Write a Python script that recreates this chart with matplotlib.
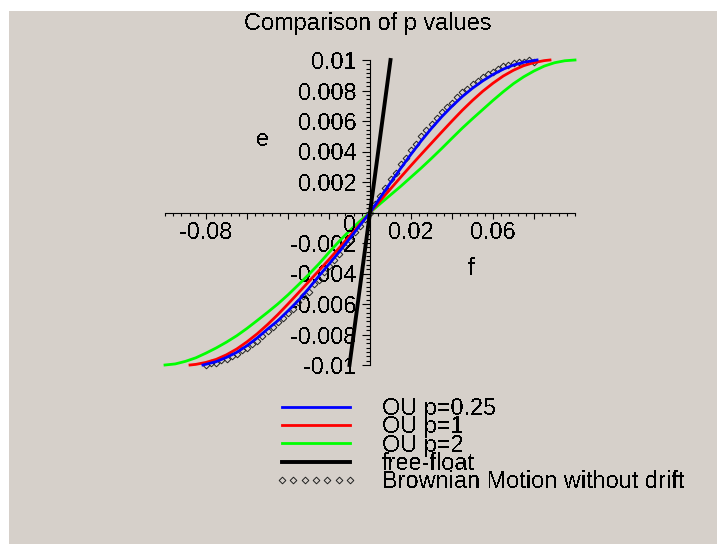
import matplotlib
matplotlib.use('Agg')
import matplotlib.pyplot as plt
from matplotlib.patches import Rectangle
from matplotlib.ticker import MultipleLocator, FixedLocator, FixedFormatter

# ---------------- data ----------------
title = 'Comparison of p values'
x_name = 'f'
y_name = 'e'

green_f = [-0.100, -0.095, -0.090, -0.085, -0.080, -0.075, -0.070, -0.065, -0.060, -0.055,
           -0.050, -0.045, -0.040, -0.035, -0.030, -0.025, -0.020, -0.015, -0.010, -0.005,
           0.000, 0.005, 0.010, 0.015, 0.020, 0.025, 0.030, 0.035, 0.040, 0.045,
           0.050, 0.055, 0.060, 0.065, 0.070, 0.075, 0.080, 0.085, 0.090, 0.095, 0.100]
green_e = [-0.01000, -0.00993, -0.00976, -0.00953, -0.00922, -0.00888, -0.00850, -0.00808, -0.00760, -0.00708,
           -0.00655, -0.00600, -0.00540, -0.00475, -0.00408, -0.00338, -0.00262, -0.00188, -0.00120, -0.00058,
           0.0, 0.00058, 0.00115, 0.00172, 0.00232, 0.00292, 0.00355, 0.00420, 0.00487, 0.00553,
           0.00615, 0.00675, 0.00735, 0.00792, 0.00845, 0.00890, 0.00928, 0.00960, 0.00982, 0.00995, 0.01000]

red_f = [-0.0878, -0.085, -0.080, -0.075, -0.070, -0.065, -0.060, -0.055, -0.050, -0.045,
         -0.040, -0.035, -0.030, -0.025, -0.020, -0.015, -0.010, -0.005,
         0.000, 0.005, 0.010, 0.015, 0.020, 0.025, 0.030, 0.035, 0.040, 0.045,
         0.050, 0.055, 0.060, 0.065, 0.070, 0.075, 0.080, 0.085, 0.0878]
red_e = [-0.01000, -0.00996, -0.00983, -0.00963, -0.00933, -0.00895, -0.00848, -0.00795, -0.00735, -0.00670,
         -0.00600, -0.00528, -0.00455, -0.00382, -0.00308, -0.00232, -0.00155, -0.00078,
         0.0, 0.00078, 0.00155, 0.00232, 0.00308, 0.00382, 0.00455, 0.00528, 0.00600, 0.00670,
         0.00735, 0.00795, 0.00848, 0.00895, 0.00933, 0.00963, 0.00983, 0.00996, 0.01000]

blue_f = [-0.0815, -0.075, -0.070, -0.065, -0.060, -0.055, -0.050, -0.045, -0.040, -0.035,
          -0.030, -0.025, -0.020, -0.015, -0.010, -0.005,
          0.000, 0.005, 0.010, 0.015, 0.020, 0.025, 0.030, 0.035, 0.040, 0.045,
          0.050, 0.055, 0.060, 0.065, 0.070, 0.075, 0.0815]
blue_e = [-0.01000, -0.00978, -0.00950, -0.00917, -0.00873, -0.00822, -0.00765, -0.00710, -0.00645, -0.00578,
          -0.00500, -0.00418, -0.00338, -0.00258, -0.00172, -0.00086,
          0.0, 0.00098, 0.00195, 0.00290, 0.00382, 0.00470, 0.00552, 0.00628, 0.00697, 0.00760,
          0.00815, 0.00863, 0.00905, 0.00940, 0.00967, 0.00985, 0.01000]

free_f = [-0.0100, 0.0100]
free_e = [-0.0100, 0.0100]

bm_f = [-0.0800, -0.0775, -0.0750, -0.0725, -0.0700, -0.0675, -0.0650, -0.0625, -0.0600, -0.0575,
        -0.0550, -0.0525, -0.0500, -0.0475, -0.0450, -0.0425, -0.0400, -0.0375, -0.0350, -0.0325,
        -0.0300, -0.0275, -0.0250, -0.0225, -0.0200, -0.0175, -0.0150, -0.0125, -0.0100, -0.0075,
        -0.0050, -0.0025, 0.0000, 0.0025, 0.0050, 0.0075, 0.0100, 0.0125, 0.0150, 0.0175,
        0.0200, 0.0225, 0.0250, 0.0275, 0.0300, 0.0325, 0.0350, 0.0375, 0.0400, 0.0425,
        0.0450, 0.0475, 0.0500, 0.0525, 0.0550, 0.0575, 0.0600, 0.0625, 0.0650, 0.0675,
        0.0700, 0.0725, 0.0750, 0.0775, 0.0800]
bm_e = [-0.0100, -0.0099, -0.0099, -0.0097, -0.0096, -0.0094, -0.0093, -0.0090, -0.0089, -0.0086,
        -0.0084, -0.0081, -0.0078, -0.0075, -0.0072, -0.0069, -0.0066, -0.0063, -0.0059, -0.0055,
        -0.0052, -0.0047, -0.0044, -0.0039, -0.0035, -0.0031, -0.0027, -0.0022, -0.0018, -0.0013,
        -0.0009, -0.0004, 0.0000, 0.00055, 0.0011, 0.0016, 0.0022, 0.0026, 0.0032, 0.0036,
        0.0041, 0.0045, 0.0050, 0.0054, 0.0058, 0.0062, 0.0066, 0.0069, 0.0072, 0.0076,
        0.0079, 0.0081, 0.0084, 0.0086, 0.0089, 0.0091, 0.0092, 0.0094, 0.0096, 0.0097,
        0.0098, 0.0099, 0.0099, 0.0100, 0.0099]

series_labels = ['OU p=0.25', 'OU p=1', 'OU p=2', 'free-float', 'Brownian Motion without drift']

xtick_values = [-0.08, -0.06, -0.04, -0.02, 0.0, 0.02, 0.04, 0.06, 0.08]
xtick_labels = ['-0.08', '', '', '', '', '0.02', '', '0.06', '']
ytick_values = [-0.01, -0.008, -0.006, -0.004, -0.002, 0.002, 0.004, 0.006, 0.008, 0.01]
ytick_labels = ['-0.01', '-0.008', '-0.006', '-0.004', '-0.002', '0.002', '0.004', '0.006', '0.008', '0.01']

# ---------------- style ----------------
plt.rcParams['font.family'] = ['Liberation Sans', 'DejaVu Sans']
plt.rcParams['text.antialiased'] = False
FS = 16.9
BG = '#d6d0ca'
W, H = 717, 544

fig = plt.figure(figsize=(W / 100, H / 100), dpi=100, facecolor='white')
fig.patches.append(Rectangle((9 / W, 0), 1 - 9 / W, 1 - 11 / H, transform=fig.transFigure,
                             facecolor=BG, edgecolor='none', zorder=-10))

ax = fig.add_axes([165 / W, (H - 365) / H, 410 / W, 305 / H])
ax.set_facecolor('none')
ax.set_xlim(-0.1, 0.1)
ax.set_ylim(-0.01, 0.01)

for s in ['top', 'right']:
    ax.spines[s].set_visible(False)
ax.spines['left'].set_position(('data', 0))
ax.spines['bottom'].set_position(('data', 0))
ax.spines['left'].set_linewidth(0.8)
ax.spines['bottom'].set_linewidth(0.8)

ax.xaxis.set_major_locator(FixedLocator(xtick_values))
ax.xaxis.set_major_formatter(FixedFormatter(xtick_labels))
ax.xaxis.set_minor_locator(MultipleLocator(0.004))
ax.yaxis.set_major_locator(FixedLocator(ytick_values))
ax.yaxis.set_major_formatter(FixedFormatter(ytick_labels))
ax.yaxis.set_minor_locator(MultipleLocator(0.002 / 7))
ax.tick_params(axis='x', which='major', direction='out', length=4.3, width=0.8, pad=2.1, labelsize=FS)
ax.tick_params(axis='x', which='minor', direction='out', length=2.2, width=0.8)
ax.tick_params(axis='y', which='major', direction='out', length=5.8, width=0.8, pad=4.0, labelsize=FS)
ax.tick_params(axis='y', which='minor', direction='out', length=3.0, width=0.8)

bm, = ax.plot(bm_f, bm_e, linestyle='none', marker='D', markersize=3.4, markerfacecolor='none',
              markeredgecolor='#202020', markeredgewidth=0.7, clip_on=False, zorder=2,
              label=series_labels[4])
g, = ax.plot(green_f, green_e, color='#00ff00', lw=2.0, clip_on=False, zorder=3, label=series_labels[2])
r, = ax.plot(red_f, red_e, color='#ff0000', lw=2.0, clip_on=False, zorder=3, label=series_labels[1])
b, = ax.plot(blue_f, blue_e, color='#0000ff', lw=2.0, clip_on=False, zorder=4, label=series_labels[0])
k, = ax.plot(free_f, free_e, color='black', lw=2.8, clip_on=False, zorder=5, label=series_labels[3])

ax.annotate('0', xy=(0, 0), xycoords='data', xytext=(-14, -13), textcoords='offset pixels',
            ha='right', va='center', fontsize=FS)
ax.text(-0.0525, 0.0048, y_name, ha='center', va='center', fontsize=FS)
ax.text(0.049, -0.0037, x_name, ha='center', va='center', fontsize=FS)

fig.text(368 / W, 1 - 30 / H, title, ha='center', va='baseline', fontsize=FS)

fig.legend([b, r, g, k, bm], series_labels, loc='upper left',
           bbox_to_anchor=(275 / W, 1 - 397 / H), frameon=False, fontsize=FS,
           handlelength=3.49, handletextpad=1.06, labelspacing=-0.20,
           borderpad=0, borderaxespad=0, numpoints=7)

fig.savefig('out.png', dpi=100, facecolor='white')
